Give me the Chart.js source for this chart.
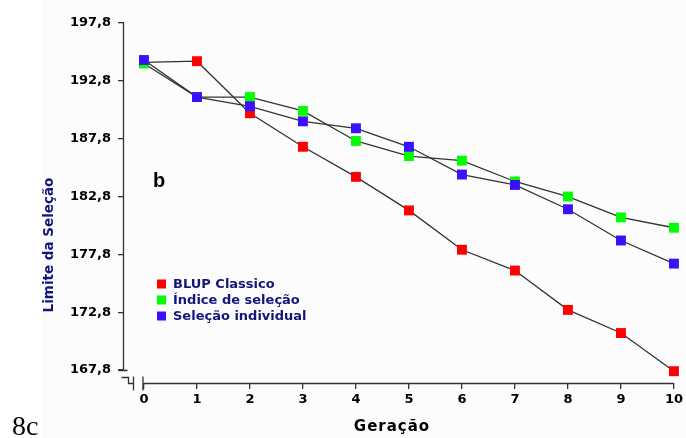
<!DOCTYPE html>
<html>
<head>
<meta charset="utf-8">
<script src="https://cdn.jsdelivr.net/npm/chart.js@4/dist/chart.umd.min.js"></script>
<style>
  html, body { margin: 0; padding: 0; background: #fff; }
  #wrap { width: 686px; height: 438px; position: relative; }
</style>
</head>
<body>
<div id="wrap"><canvas id="chart" width="686" height="438"></canvas></div>
<script>
// Dados
const generations = [0, 1, 2, 3, 4, 5, 6, 7, 8, 9, 10];
const blupClassico = [194.4, 194.5, 190.0, 187.1, 184.5, 181.6, 178.2, 176.4, 173.0, 171.0, 167.7];
const indiceSelecao = [194.3, 191.4, 191.4, 190.2, 187.6, 186.3, 185.9, 184.1, 182.8, 181.0, 180.1];
const selecaoIndividual = [194.6, 191.4, 190.6, 189.3, 188.7, 187.1, 184.7, 183.8, 181.7, 179.0, 177.0];

const seriesNames = ['BLUP Classico', 'Índice de seleção', 'Seleção individual'];
const seriesColors = ['#ff0000', '#00ff00', '#3a10ff'];
const yTicks = [167.8, 172.8, 177.8, 182.8, 187.8, 192.8, 197.8];
const xTicks = [0, 1, 2, 3, 4, 5, 6, 7, 8, 9, 10];

const yTitle = 'Limite da Seleção';
const xTitle = 'Geração';
const panelLabel = 'b';
const figLabel = '8c';

const tickFont = { family: 'DejaVu Sans', size: 13, weight: 'bold' };
const navy = '#14147d';
const axisColor = '#333333';

function series(values, i, order) {
    return {
        label: seriesNames[i],
        data: values.map((v, k) => ({ x: generations[k], y: v })),
        borderColor: '#333333',
        borderWidth: 1.3,
        backgroundColor: seriesColors[i],
        pointStyle: 'rect',
        pointRadius: 7,
        pointHoverRadius: 7,
        pointBackgroundColor: seriesColors[i],
        pointBorderColor: seriesColors[i],
        pointBorderWidth: 0,
        tension: 0,
        clip: false,
        order: order
    };
}

// Eixos com quebra, legenda e textos
const decorations = {
    id: 'decorations',
    beforeDraw(chart) {
        const ctx = chart.ctx;
        ctx.save();
        ctx.fillStyle = '#ffffff';
        ctx.fillRect(0, 0, chart.width, chart.height);
        ctx.fillStyle = '#fcfcfc';
        ctx.fillRect(42, 0, chart.width - 42, chart.height);
        ctx.restore();
    },
    afterDraw(chart) {
        const ctx = chart.ctx;
        const area = chart.chartArea;
        const xs = chart.scales.x;
        const ys = chart.scales.y;
        const ax = area.left + 0.5;
        const ay = area.bottom + 0.5;
        const yLow = Math.round(ys.getPixelForValue(yTicks[0])) + 0.5;
        const x0 = xs.getPixelForValue(xTicks[0]);

        ctx.save();
        ctx.strokeStyle = axisColor;
        ctx.lineWidth = 1.3;
        ctx.beginPath();
        // eixo y
        ctx.moveTo(ax, area.top - 1);
        ctx.lineTo(ax, yLow);
        ctx.moveTo(ax - 5, yLow);
        ctx.lineTo(ax + 4, yLow);
        // quebra
        ctx.moveTo(ax - 2, ay - 6);
        ctx.lineTo(ax + 5, ay - 6);
        ctx.lineTo(ax + 5, ay);
        ctx.lineTo(ax + 10, ay);
        ctx.moveTo(ax + 10, ay - 7);
        ctx.lineTo(ax + 10, ay + 7);
        ctx.moveTo(x0 - 1, ay - 7);
        ctx.lineTo(x0 - 1, ay + 7);
        // eixo x
        ctx.moveTo(x0 - 1, ay);
        ctx.lineTo(area.right, ay);
        ctx.stroke();

        // legenda
        ctx.font = 'bold 13px "DejaVu Sans"';
        ctx.textBaseline = 'middle';
        ctx.textAlign = 'left';
        seriesNames.forEach((name, i) => {
            const cy = 284 + i * 16;
            ctx.fillStyle = seriesColors[i];
            ctx.fillRect(157, cy - 4.5, 9, 9);
            ctx.fillStyle = navy;
            ctx.fillText(name, 173, cy + 0.5);
        });

        // rótulo do painel
        ctx.fillStyle = '#000';
        ctx.font = 'bold 20px "Liberation Sans"';
        ctx.textBaseline = 'alphabetic';
        ctx.fillText(panelLabel, 153, 187);

        // título do eixo x
        ctx.font = 'bold 15px "DejaVu Sans"';
        ctx.letterSpacing = '1px';
        ctx.textAlign = 'center';
        ctx.fillText(xTitle, 392, 431);
        ctx.letterSpacing = '0px';

        // título do eixo y (cortado à esquerda)
        ctx.save();
        ctx.beginPath();
        ctx.rect(42, 0, chart.width, chart.height);
        ctx.clip();
        ctx.translate(53, 245);
        ctx.rotate(-Math.PI / 2);
        ctx.fillStyle = navy;
        ctx.font = 'bold 13.5px "DejaVu Sans"';
        ctx.textAlign = 'center';
        ctx.fillText(yTitle, 0, 0);
        ctx.restore();

        // 8c
        ctx.fillStyle = '#000';
        ctx.font = '28px "Liberation Serif"';
        ctx.textAlign = 'left';
        ctx.fillText(figLabel, 12, 435);
        ctx.restore();
    }
};

new Chart(document.getElementById('chart'), {
    type: 'line',
    data: {
        datasets: [
            series(blupClassico, 0, 3),
            series(indiceSelecao, 1, 2),
            series(selecaoIndividual, 2, 1)
        ]
    },
    options: {
        responsive: false,
        animation: false,
        layout: { padding: { top: 23, right: 11, left: 0, bottom: 0 } },
        plugins: {
            legend: { display: false },
            tooltip: { enabled: false }
        },
        scales: {
            x: {
                type: 'linear',
                min: -0.395,
                max: 10,
                afterBuildTicks: (scale) => { scale.ticks = xTicks.map(v => ({ value: v })); },
                afterFit: (scale) => { scale.height = 55; },
                border: { display: false },
                grid: { drawOnChartArea: false, drawTicks: true, tickLength: 6, color: axisColor, lineWidth: 1.3 },
                ticks: {
                    color: '#000',
                    font: tickFont,
                    padding: 3,
                    maxRotation: 0,
                    callback: (v) => String(v)
                }
            },
            y: {
                type: 'linear',
                min: 166.68,
                max: 197.8,
                afterBuildTicks: (scale) => { scale.ticks = yTicks.map(v => ({ value: v })); },
                afterFit: (scale) => { scale.width = 123; },
                border: { display: false },
                grid: { drawOnChartArea: false, drawTicks: true, tickLength: 5, color: axisColor, lineWidth: 1.3 },
                ticks: {
                    color: '#000',
                    font: tickFont,
                    padding: 7,
                    callback: (v) => v.toFixed(1).replace('.', ',')
                }
            }
        }
    },
    plugins: [decorations]
});
</script>
</body>
</html>
